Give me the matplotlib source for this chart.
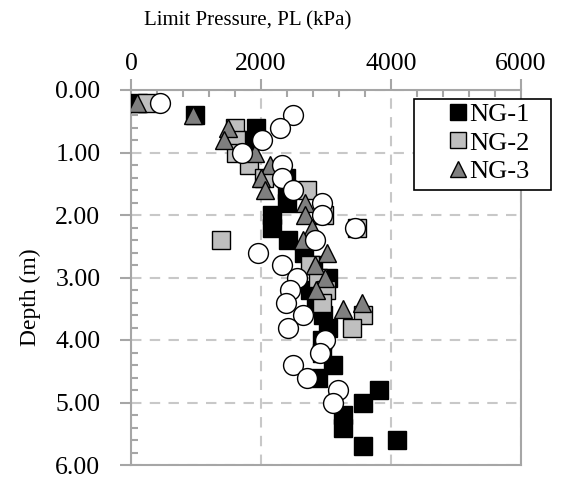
import matplotlib
matplotlib.use('Agg')
import matplotlib.pyplot as plt
from matplotlib.ticker import MultipleLocator, FormatStrFormatter
from matplotlib.lines import Line2D
from matplotlib.patches import Rectangle

plt.rcParams['font.family'] = ['Liberation Serif', 'DejaVu Serif']

# ---- data ----
ng1_depth = [0.2, 0.4, 0.6, 0.8, 1.4, 1.6, 1.8, 2.0, 2.2, 2.4, 2.6, 2.8, 3.0, 3.2, 3.4,
             3.6, 3.8, 4.0, 4.2, 4.4, 4.6, 4.8, 5.0, 5.2, 5.4, 5.6, 5.7]
ng1_pl = [100, 985, 1920, 1870, 2385, 2400, 2400, 2170, 2170, 2415, 2660, 2800, 3030, 2750, 2850,
          2950, 3030, 2940, 2940, 3110, 2880, 3815, 3570, 3260, 3260, 4090, 3570]

ng2_depth = [0.2, 0.6, 0.8, 1.0, 1.2, 1.4, 1.6, 2.0, 2.2, 2.4, 2.8, 3.0, 3.2, 3.4, 3.6, 3.8]
ng2_pl = [250, 1600, 1620, 1620, 1815, 2050, 2700, 2970, 3475, 1385, 2750, 2870, 3000, 2940, 3570, 3400]

ng3_depth = [0.2, 0.4, 0.6, 0.8, 1.0, 1.2, 1.4, 1.6, 1.8, 2.0, 2.2, 2.4, 2.6, 2.8, 3.0, 3.2, 3.4, 3.5]
ng3_pl = [90, 950, 1490, 1430, 1900, 2140, 2000, 2060, 2680, 2680, 2785, 2650, 3015, 2830, 2985, 2850, 3550, 3265]

other_depth = [0.2, 0.4, 0.6, 0.8, 1.0, 1.2, 1.4, 1.6, 1.8, 2.0, 2.2, 2.4, 2.6, 2.8, 3.0,
               3.2, 3.4, 3.6, 3.8, 4.0, 4.2, 4.4, 4.6, 4.8, 5.0]
other_pl = [450, 2490, 2290, 2015, 1700, 2320, 2320, 2490, 2940, 2940, 3445, 2830, 1955, 2320, 2550,
            2445, 2385, 2645, 2415, 2985, 2905, 2490, 2705, 3185, 3110]

series_labels = ['NG-1', 'NG-2', 'NG-3']
x_ticks = [0, 2000, 4000, 6000]
y_ticks = [0, 1, 2, 3, 4, 5, 6]

W, H = 568, 479
fig = plt.figure(figsize=(W / 100, H / 100), dpi=100)
ax = fig.add_axes([131 / W, 1 - 465 / H, 390 / W, 375 / H])

ms = 13.5
ax.plot(ng1_pl, ng1_depth, ls='none', marker='s', ms=ms, mfc='black', mec='black', mew=1.0, zorder=3)
ax.plot(ng2_pl, ng2_depth, ls='none', marker='s', ms=ms, mfc='#bfbfbf', mec='black', mew=1.0, zorder=4)
ax.plot(ng3_pl, ng3_depth, ls='none', marker='^', ms=ms, mfc='#7f7f7f', mec='black', mew=1.0, zorder=5)
ax.plot(other_pl, other_depth, ls='none', marker='o', ms=ms + 0.8, mfc='white', mec='black', mew=1.0, zorder=6)

ax.set_xlim(0, 6000)
ax.set_ylim(6, 0)
ax.set_xticks(x_ticks)
ax.set_yticks(y_ticks)
ax.xaxis.set_minor_locator(MultipleLocator(400))
ax.yaxis.set_minor_locator(MultipleLocator(0.2))
ax.yaxis.set_major_formatter(FormatStrFormatter('%.2f'))
ax.xaxis.tick_top()

spine_c = '#a6a6a6'
for s in ax.spines.values():
    s.set_color(spine_c)
    s.set_linewidth(1.5)

ax.tick_params(axis='both', which='major', direction='out', length=8, width=1.5, color=spine_c,
               labelsize=18.5)
ax.tick_params(axis='x', which='major', pad=3)
ax.tick_params(axis='y', which='major', pad=14)
ax.tick_params(axis='both', which='minor', direction='in', length=5, width=1.5, color=spine_c)
ax.tick_params(axis='x', which='both', top=True, bottom=False)
ax.tick_params(axis='y', which='both', left=True, right=False)

ax.grid(True, which='major', color='#c8c8c8', linestyle=(0, (5, 4)), linewidth=1.5, zorder=0)
ax.set_axisbelow(True)

fig.text(248 / W, 1 - 21 / H, 'Limit Pressure, PL (kPa)', ha='center', va='center', fontsize=15)
fig.text(30 / W, 1 - 297 / H, 'Depth (m)', ha='center', va='center', rotation=90, fontsize=17)

# legend frame (drawn separately to reproduce the wide left padding)
fig.patches.append(Rectangle((414 / W, 1 - 190 / H), 137 / W, 91 / H, transform=fig.transFigure,
                             facecolor='white', edgecolor='black', linewidth=1.2, zorder=8))

handles = [
    Line2D([], [], ls='none', marker='s', ms=12, mfc='black', mec='black', mew=1.0),
    Line2D([], [], ls='none', marker='s', ms=12, mfc='#bfbfbf', mec='black', mew=1.0),
    Line2D([], [], ls='none', marker='^', ms=12, mfc='#7f7f7f', mec='black', mew=1.0),
]
leg = fig.legend(handles, series_labels, loc='upper left', bbox_to_anchor=(449 / W, 1 - 103 / H),
                 fontsize=19, frameon=False, handlelength=0.7, handletextpad=0.05,
                 borderpad=0, labelspacing=0.18, borderaxespad=0)
leg.set_zorder(9)

fig.savefig('out.png', dpi=100)
